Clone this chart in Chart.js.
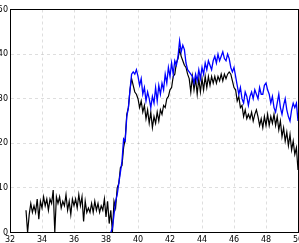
<!DOCTYPE html>
<html>
<head>
<meta charset="utf-8">
<script src="https://cdn.jsdelivr.net/npm/chart.js@4"></script>
<style>
  html, body { margin: 0; padding: 0; background: #fff; overflow: hidden; }
  #wrap { position: relative; width: 299px; height: 243px; overflow: hidden; }
  #chart { position: absolute; left: -6px; top: 0; }
</style>
</head>
<body>
<div id="wrap"><canvas id="chart" width="312" height="243"></canvas></div>
<script>
// sample times (x axis)
const time = [
  33.0, 33.1, 33.2, 33.3, 33.4, 33.5, 33.6, 33.7, 33.8, 33.9,
  34.0, 34.1, 34.2, 34.3, 34.4, 34.5, 34.6, 34.7, 34.8, 34.9,
  35.0, 35.1, 35.2, 35.3, 35.4, 35.5, 35.6, 35.7, 35.8, 35.9,
  36.0, 36.1, 36.2, 36.3, 36.4, 36.5, 36.6, 36.7, 36.8, 36.9,
  37.0, 37.1, 37.2, 37.3, 37.4, 37.5, 37.6, 37.7, 37.8, 37.9,
  38.0, 38.1, 38.2, 38.3, 38.4, 38.5, 38.6, 38.7, 38.8, 38.9,
  39.0, 39.1, 39.2, 39.3, 39.4, 39.5, 39.6, 39.7, 39.8, 39.9,
  40.0, 40.1, 40.2, 40.3, 40.4, 40.5, 40.6, 40.7, 40.8, 40.9,
  41.0, 41.1, 41.2, 41.3, 41.4, 41.5, 41.6, 41.7, 41.8, 41.9,
  42.0, 42.1, 42.2, 42.3, 42.4, 42.5, 42.6, 42.7, 42.8, 42.9,
  43.0, 43.1, 43.2, 43.3, 43.4, 43.5, 43.6, 43.7, 43.8, 43.9,
  44.0, 44.1, 44.2, 44.3, 44.4, 44.5, 44.6, 44.7, 44.8, 44.9,
  45.0, 45.1, 45.2, 45.3, 45.4, 45.5, 45.6, 45.7, 45.8, 45.9,
  46.0, 46.1, 46.2, 46.3, 46.4, 46.5, 46.6, 46.7, 46.8, 46.9,
  47.0, 47.1, 47.2, 47.3, 47.4, 47.5, 47.6, 47.7, 47.8, 47.9,
  48.0, 48.1, 48.2, 48.3, 48.4, 48.5, 48.6, 48.7, 48.8, 48.9,
  49.0, 49.1, 49.2, 49.3, 49.4, 49.5, 49.6, 49.7, 49.8, 49.9,
  50.0
];

// black series, 33.0 .. 50.0
const black = [
  5, 0, 4, 6.5, 4.5, 6, 4.5, 7.5, 3, 7,
  5.5, 8, 6, 7.5, 5, 7.5, 6.5, 9.5, 0, 8,
  6.5, 8, 5.5, 7, 6, 8.5, 5, 7, 4, 7.5,
  6, 7.5, 5.5, 8.5, 6, 8, 2.5, 7, 4.5, 5.5,
  4.5, 6.5, 4.5, 7, 5, 6.5, 4.5, 6, 5, 7.5,
  3.5, 7, 2, 5, 0, 7, 5.5, 10, 11, 14.5,
  15, 19, 21, 26.5, 28, 32, 34.5, 33, 31.5, 31,
  30, 28, 29.5, 27, 28.5, 25.5, 27.5, 24.5, 27, 23.5,
  26, 24.5, 27, 25, 27.5, 26.5, 28.5, 28, 30, 30.5,
  32, 32.5, 35, 35.5, 38, 39, 41, 39.5, 38.5, 37.5,
  37, 35.5, 34.5, 31.5, 35, 32, 34.5, 31, 34.5, 31.5,
  34.5, 32, 35, 32.5, 35, 33, 35, 33.5, 35, 33.5,
  35, 34, 35.5, 34, 35.5, 34.5, 35.5, 36, 35.5, 34,
  32.5, 32, 29.5, 30.5, 28, 28.5, 26, 27.5, 25.5, 26.5,
  25.5, 27, 25, 26.5, 27.5, 26, 24, 25.5, 23.5, 26,
  24, 26.5, 24, 26, 24.5, 26.5, 24, 26, 23, 25,
  21.5, 23.5, 20.5, 22.5, 19.5, 22, 18.5, 20.5, 17.5, 19,
  14
];

// blue series, 38.3 .. 50.0
const blue = [
  0, 1, 4, 7, 8.5, 11, 13.5,
  16, 21, 20.5, 26, 28, 32, 35.5, 36, 35.5, 36.5,
  35, 33, 34.5, 31, 32.5, 29.5, 31.5, 30, 28, 30.5,
  29, 32.5, 29.5, 33, 31, 33.5, 32, 35.5, 33.5, 37,
  35, 38, 35.5, 38.5, 37.5, 39.5, 43, 40.5, 42, 41,
  38, 36.5, 36, 35.5, 35, 33.5, 35.5, 34, 36.5, 34.5,
  37, 35.5, 38, 36.5, 38.5, 37.5, 36.5, 38.5, 39.5, 38,
  40, 38.5, 39.5, 40.5, 39, 38.5, 40, 39, 37, 36,
  37, 35, 33, 31, 32.5, 30, 29, 31.5, 30.5, 28.5,
  30.5, 31.5, 30, 32, 31, 30, 32.5, 31, 31, 33,
  33.5, 32, 31, 29, 30.5, 28, 27, 29, 31, 28,
  26.5, 28.5, 30, 27.5, 26, 25, 27.5, 29, 28, 29,
  25
];

const xTicks = [32, 34, 36, 38, 40, 42, 44, 46, 48, 50];
const yTicks = [0, 10, 20, 30, 40, 50];

const blackPoints = time.map((t, i) => ({ x: t, y: black[i] }));
const blueTime = time.slice(time.length - blue.length);
const bluePoints = blueTime.map((t, i) => ({ x: t, y: blue[i] }));

const font = { family: "DejaVu Sans", size: 8 };
const grid = { color: "rgba(0,0,0,0.13)", lineWidth: 1, drawTicks: false };
// in chart.js v4 the border dash applies to the grid lines
const axisBorder = { display: true, color: "#000", width: 1, dash: [3, 3] };

new Chart(document.getElementById("chart"), {
  type: "line",
  data: {
    datasets: [
      { data: bluePoints, borderColor: "#0000ff", borderWidth: 1.3 },
      { data: blackPoints, borderColor: "#000000", borderWidth: 1.2 },
    ],
  },
  options: {
    responsive: false,
    animation: false,
    events: [],
    layout: { padding: { top: 9.5, right: 8, left: 0, bottom: 0 } },
    elements: { point: { radius: 0 }, line: { tension: 0, fill: false } },
    plugins: { legend: { display: false }, tooltip: { enabled: false } },
    scales: {
      x: {
        type: "linear",
        min: 32,
        max: 50,
        afterBuildTicks: (s) => { s.ticks = xTicks.map((v) => ({ value: v })); },
        afterFit: (s) => { s.height = 10.5; },
        ticks: { font, color: "#000", padding: 2.5, maxRotation: 0 },
        grid,
        border: axisBorder,
      },
      y: {
        min: 0,
        max: 50,
        afterBuildTicks: (s) => { s.ticks = yTicks.map((v) => ({ value: v })); },
        afterFit: (s) => { s.width = 16; },
        ticks: { font, color: "#000", padding: 2 },
        grid,
        border: axisBorder,
      },
      xTop: {
        type: "linear",
        position: "top",
        min: 32,
        max: 50,
        afterFit: (s) => { s.height = 0; },
        ticks: { display: false },
        grid: { display: false, drawTicks: false },
        border: { display: true, color: "#000", width: 1 },
      },
      yRight: {
        position: "right",
        min: 0,
        max: 50,
        afterFit: (s) => { s.width = 0; },
        ticks: { display: false },
        grid: { display: false, drawTicks: false },
        border: { display: true, color: "#000", width: 1 },
      },
    },
  },
});
</script>
</body>
</html>
